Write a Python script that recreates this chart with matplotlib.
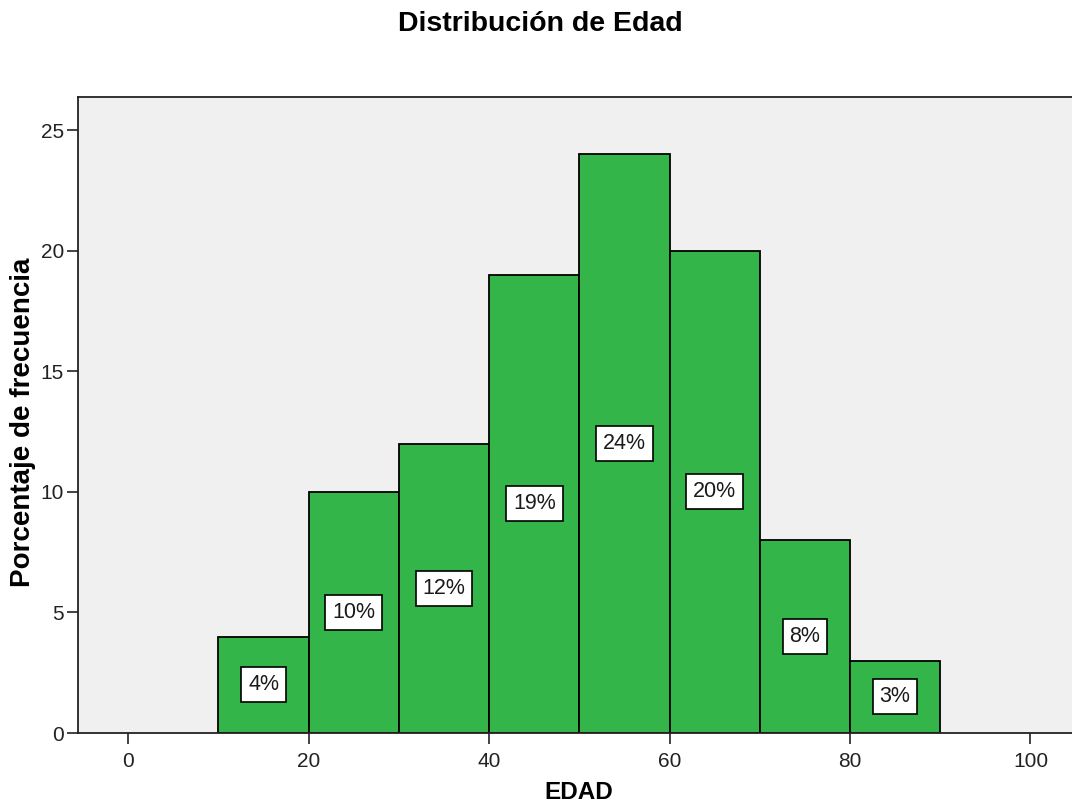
import numpy as np
import matplotlib
matplotlib.use("Agg")
import matplotlib.pyplot as plt

plt.rcParams['font.family'] = ['Liberation Sans', 'DejaVu Sans']

# age histogram, 10-year bins
bin_edges = [10, 20, 30, 40, 50, 60, 70, 80, 90]
percentages = [4, 10, 12, 19, 24, 20, 8, 3]
x_ticks = [0, 20, 40, 60, 80, 100]
y_ticks = [0, 5, 10, 15, 20, 25]

bar_green = '#33b54a'
panel_grey = '#f0f0f0'

fig = plt.figure(figsize=(10.72, 8.05), dpi=100)
ax = fig.add_axes([78/1072, 72/805, 1 - 78/1072, 636/805])
ax.set_facecolor(panel_grey)

lefts = np.array(bin_edges[:-1])
widths = np.diff(bin_edges)
ax.bar(lefts, percentages, width=widths, align='edge', color=bar_green,
       edgecolor='black', linewidth=1.3, zorder=2)

for x0, w, p in zip(lefts, widths, percentages):
    ax.text(x0 + w / 2, p / 2, f"{p}%", ha='center', va='center', fontsize=15.5,
            color='#1a1a1a', zorder=3,
            bbox=dict(boxstyle='square,pad=0.32', facecolor='white',
                      edgecolor='black', linewidth=1.2))

ax.set_xlim(-5.57, 104.6)
ax.set_ylim(0, 26.37)
ax.set_xticks(x_ticks)
ax.set_yticks(y_ticks)
ax.tick_params(axis='both', direction='out', length=8, width=1.2,
               labelsize=15, labelcolor='#222222', color='#222222')
ax.tick_params(axis='x', pad=6)
ax.tick_params(axis='y', pad=2)

for side in ['left', 'top', 'bottom']:
    ax.spines[side].set_linewidth(1.3)
    ax.spines[side].set_color('#222222')
ax.spines['right'].set_visible(False)

fig.text(0.504, 0.970, "Distribución de Edad", ha='center', va='center',
         fontsize=20.5, fontweight='bold')
fig.text(579/1072, 0.016, "EDAD", ha='center', va='center',
         fontsize=17.5, fontweight='bold')
fig.text(0.0215, 0.476, "Porcentaje de frecuencia", ha='center', va='center',
         rotation=90, fontsize=20, fontweight='bold')

fig.savefig("out.png", dpi=100)
